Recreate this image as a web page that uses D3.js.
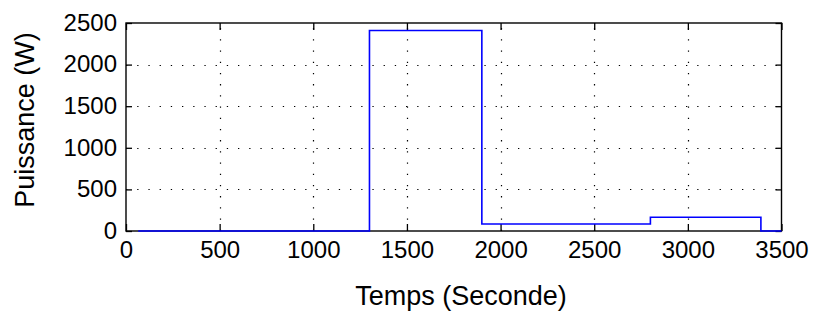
<!DOCTYPE html>
<html>
<head>
<meta charset="utf-8">
<script src="https://cdn.jsdelivr.net/npm/d3@7/dist/d3.min.js"></script>
<style>
  html, body { margin: 0; padding: 0; background: #fff; }
  svg { display: block; }
  text { font-family: "Liberation Sans", Arial, sans-serif; fill: #000; }
</style>
</head>
<body>
<svg id="chart" width="819" height="313"></svg>
<script>
// Data (step signal): power level held from each time until the next one
const stepTimes = [65, 1300, 1900, 2800, 3390, 3500];
const stepPower = [0, 2410, 85, 165, 0, 0];
const xTicks = [0, 500, 1000, 1500, 2000, 2500, 3000, 3500];
const yTicks = [0, 500, 1000, 1500, 2000, 2500];
const xLabel = "Temps (Seconde)";
const yLabel = "Puissance (W)";

(function () {
const svg = d3.select("#chart");
const mLeft = 126, mRight = 781.5, mTop = 23, mBottom = 231;

const x = d3.scaleLinear().domain([0, 3500]).range([mLeft, mRight]);
const y = d3.scaleLinear().domain([0, 2500]).range([mBottom, mTop]);

svg.append("rect").attr("width", 819).attr("height", 313).attr("fill", "#fff");

// grid
const grid = svg.append("g").attr("stroke", "#000").attr("stroke-width", 1.2)
  .attr("stroke-dasharray", "1.3 9.9");
grid.selectAll("line.v").data(xTicks.filter(d => d > 0 && d < 3500)).join("line")
  .attr("class", "v")
  .attr("x1", d => Math.round(x(d)) + 0.5).attr("x2", d => Math.round(x(d)) + 0.5)
  .attr("y1", mBottom).attr("y2", mTop);
grid.selectAll("line.h").data(yTicks.filter(d => d > 0 && d < 2500)).join("line")
  .attr("class", "h")
  .attr("y1", d => Math.round(y(d)) + 0.5).attr("y2", d => Math.round(y(d)) + 0.5)
  .attr("x1", mLeft).attr("x2", mRight);

// axes with inward ticks
const xAxis = d3.axisBottom(x).tickValues(xTicks).tickSize(-7).tickPadding(14).tickFormat(d3.format("d"));
const yAxis = d3.axisLeft(y).tickValues(yTicks).tickSize(-6).tickPadding(9).tickFormat(d3.format("d"));
const xTopAxis = d3.axisTop(x).tickValues(xTicks).tickSize(-7).tickFormat("");
const yRightAxis = d3.axisRight(y).tickValues(yTicks).tickSize(-6).tickFormat("");

function style(g) {
  g.selectAll("path.domain").remove();
  g.selectAll(".tick line").attr("stroke", "#000").attr("stroke-width", 1.3);
  g.selectAll(".tick text").style("font-size", "24px").attr("fill", "#000");
}
svg.append("g").attr("transform", `translate(0,${mBottom})`).call(xAxis).call(style)
  .selectAll(".tick text").attr("dy", "0.71em").attr("y", 10);
svg.append("g").attr("transform", `translate(${mLeft},0)`).call(yAxis).call(style)
  .selectAll(".tick text").attr("dy", "0.3em");
svg.append("g").attr("transform", `translate(0,${mTop})`).call(xTopAxis).call(style);
svg.append("g").attr("transform", `translate(${mRight},0)`).call(yRightAxis).call(style);

// box
svg.append("rect").attr("x", mLeft).attr("y", mTop)
  .attr("width", mRight - mLeft).attr("height", mBottom - mTop)
  .attr("fill", "none").attr("stroke", "#000").attr("stroke-width", 1.4);

// step line
const pts = stepTimes.map((t, i) => [t, stepPower[i]]);
const line = d3.line().x(d => x(d[0])).y(d => y(d[1])).curve(d3.curveStepAfter);
svg.append("path").datum(pts).attr("d", line)
  .attr("fill", "none").attr("stroke", "#0000ff").attr("stroke-width", 1.6);

// axis titles
svg.append("text").attr("x", 461).attr("y", 305).attr("text-anchor", "middle")
  .style("font-size", "27px").text(xLabel);
svg.append("text").attr("transform", "translate(34,120) rotate(-90)")
  .attr("text-anchor", "middle").style("font-size", "27px").text(yLabel);
})();
</script>
</body>
</html>
